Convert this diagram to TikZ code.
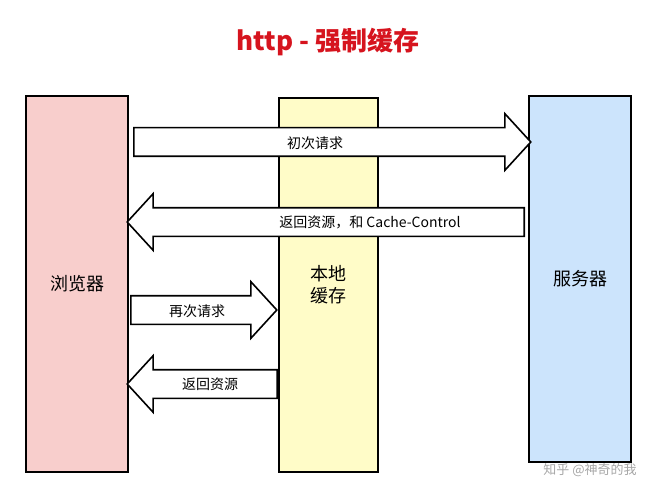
\documentclass[tikz,border=0pt]{standalone}
\usepackage{fontspec}
\setmainfont{Noto Sans CJK SC}
\usetikzlibrary{shapes.arrows}
\definecolor{pinkfill}{RGB}{248,206,204}
\definecolor{yellowfill}{RGB}{255,252,200}
\definecolor{bluefill}{RGB}{204,228,252}
\definecolor{titlered}{RGB}{214,20,30}
\tikzstyle{party} = [rectangle, draw=black, line width=1.6pt, font=\fontsize{18}{22}\selectfont]
\tikzstyle{blockarrow} = [single arrow, draw=black, fill=white, line width=1.6pt,
                          single arrow head extend=14pt, anchor=tail,
                          single arrow tip angle=95, inner xsep=0pt, inner ysep=13.5pt]
\tikzstyle{msg} = [font=\fontsize{14}{16}\selectfont]

\begin{document}
\begin{tikzpicture}[x=1pt, y=-1pt]
        \useasboundingbox (0,0) rectangle (656,500);

        \node (Title) [text=titlered, font=\fontsize{26}{30}\selectfont\bfseries] at (328,42) {http - 强制缓存};

        % the three parties
        \node (Browser) [party, fill=pinkfill, minimum width=102pt, minimum height=376pt] at (77,284) {浏览器};
        \node (Cache) [party, fill=yellowfill, minimum width=99pt, minimum height=374pt, align=center] at (328.5,285) {本地\\缓存};
        \node (Server) [party, fill=bluefill, minimum width=102pt, minimum height=366pt] at (580,279) {服务器};

        % messages
        \node (First) [blockarrow, minimum height=397pt] at (133,142) {};
        \node (Reply) [blockarrow, shape border rotate=180, minimum height=397pt] at (525,222) {};
        \node (Again) [blockarrow, minimum height=146pt] at (130,310) {};
        \node (Local) [blockarrow, shape border rotate=180, minimum height=150pt] at (278,384) {};

        \node (FirstText) [msg] at (315,143) {初次请求};
        \node (ReplyText) [msg] at (370,222) {返回资源，和 Cache-Control};
        \node (AgainText) [msg] at (197,311) {再次请求};
        \node (LocalText) [msg] at (210,384) {返回资源};

        \node (Mark) [text=gray!70, font=\fontsize{13}{15}\selectfont] at (590,470) {知乎 @神奇的我};
\end{tikzpicture}
\end{document}
